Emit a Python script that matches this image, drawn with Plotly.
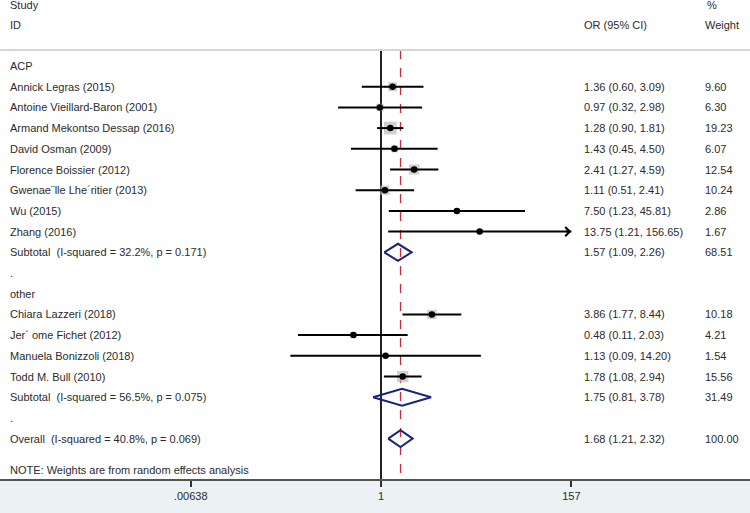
import math
import plotly.graph_objects as go

# ---------------- data ----------------
acp_studies = ["Annick Legras (2015)", "Antoine Vieillard-Baron (2001)",
               "Armand Mekontso Dessap (2016)", "David Osman (2009)",
               "Florence Boissier (2012)", "Gwenae¨lle Lhe´ritier (2013)",
               "Wu (2015)", "Zhang (2016)"]
acp_or = [1.36, 0.97, 1.28, 1.43, 2.41, 1.11, 7.50, 13.75]
acp_lo = [0.60, 0.32, 0.90, 0.45, 1.27, 0.51, 1.23, 1.21]
acp_hi = [3.09, 2.98, 1.81, 4.50, 4.59, 2.41, 45.81, 156.65]
acp_w = [9.60, 6.30, 19.23, 6.07, 12.54, 10.24, 2.86, 1.67]
acp_sub = [1.57, 1.09, 2.26, 68.51]
acp_het = "Subtotal  (I-squared = 32.2%, p = 0.171)"

other_studies = ["Chiara Lazzeri (2018)", "Jer´ ome Fichet (2012)",
                 "Manuela Bonizzoli (2018)", "Todd M. Bull (2010)"]
other_or = [3.86, 0.48, 1.13, 1.78]
other_lo = [1.77, 0.11, 0.09, 1.08]
other_hi = [8.44, 2.03, 14.20, 2.94]
other_w = [10.18, 4.21, 1.54, 15.56]
other_sub = [1.75, 0.81, 3.78, 31.49]
other_het = "Subtotal  (I-squared = 56.5%, p = 0.075)"

overall = [1.68, 1.21, 2.32, 100.00]
overall_het = "Overall  (I-squared = 40.8%, p = 0.069)"

tick_vals = [0.00638, 1, 157]
tick_text = [".00638", "1", "157"]
note_text = "NOTE: Weights are from random effects analysis"

# ---------------- layout constants ----------------
W, H = 750, 513
PX_ROW = 20.7
ROW0_PX = 66.0
PLOT_H = 479
LEFT_COL, OR_COL, W_COL = 8, 582, 703
FONT = dict(family="Arial, Liberation Sans, sans-serif", size=11, color="#2b2b2b")

def py(px):
    return (px - ROW0_PX) / PX_ROW

y_top = py(0)
y_bot = py(PLOT_H)
y_head_line = py(50)

rows = []
def add_group(name, studies, ors, los, his, ws, sub, het):
    rows.append(dict(kind="group", label=name))
    for s, o, l, h, w in zip(studies, ors, los, his, ws):
        rows.append(dict(kind="study", label=s, est=o, lo=l, hi=h, w=w))
    rows.append(dict(kind="sub", label=het, est=sub[0], lo=sub[1], hi=sub[2], w=sub[3]))
    rows.append(dict(kind="blank", label="."))

add_group("ACP", acp_studies, acp_or, acp_lo, acp_hi, acp_w, acp_sub, acp_het)
add_group("other", other_studies, other_or, other_lo, other_hi, other_w, other_sub, other_het)
rows.append(dict(kind="sub", label=overall_het, est=overall[0], lo=overall[1], hi=overall[2], w=overall[3]))

xmax = tick_vals[-1]

fig = go.Figure()

fig.add_trace(go.Scatter(x=[1, 1], y=[y_head_line, y_bot], mode="lines",
                         line=dict(color="#222222", width=2), hoverinfo="skip"))
fig.add_trace(go.Scatter(x=[overall[0], overall[0]], y=[y_head_line, y_bot], mode="lines",
                         line=dict(color="rgb(200,45,55)", width=1.3, dash="dash"), hoverinfo="skip"))

bx, by, bs = [], [], []
cx, cy = [], []
dx, dy = [], []
gx, gy = [], []
annotations = []
half_h = 8.5 / PX_ROW
arrow_rows = []

for k, r in enumerate(rows):
    annotations.append(dict(x=LEFT_COL / W, y=k, xref="paper", yref="y", text=r["label"],
                            showarrow=False, xanchor="left", yanchor="middle", font=FONT))
    if r["kind"] in ("study", "sub"):
        annotations.append(dict(x=OR_COL / W, y=k, xref="paper", yref="y",
                                text="%.2f (%.2f, %.2f)" % (r["est"], r["lo"], r["hi"]),
                                showarrow=False, xanchor="left", yanchor="middle", font=FONT))
        annotations.append(dict(x=W_COL / W, y=k, xref="paper", yref="y",
                                text="%.2f" % r["w"], showarrow=False,
                                xanchor="left", yanchor="middle", font=FONT))
    if r["kind"] == "study":
        bx.append(r["est"]); by.append(k); bs.append(2.9 * math.sqrt(r["w"]))
        cx += [r["lo"], r["hi"], None]; cy += [k, k, None]
        dx.append(r["est"]); dy.append(k)
        if r["hi"] >= xmax * 0.99:
            arrow_rows.append((k, r["hi"]))
    elif r["kind"] == "sub":
        gx += [r["lo"], r["est"], r["hi"], r["est"], r["lo"], None]
        gy += [k, k - half_h, k, k + half_h, k, None]

fig.add_trace(go.Scatter(x=bx, y=by, mode="markers",
                         marker=dict(symbol="square", size=bs, color="rgb(190,190,190)",
                                     line=dict(width=0)), hoverinfo="skip"))
fig.add_trace(go.Scatter(x=cx, y=cy, mode="lines", line=dict(color="black", width=2),
                         hoverinfo="skip"))
fig.add_trace(go.Scatter(x=dx, y=dy, mode="markers",
                         marker=dict(symbol="circle", size=6.5, color="black"), hoverinfo="skip"))
fig.add_trace(go.Scatter(x=gx, y=gy, mode="lines", line=dict(color="rgb(25,35,125)", width=2),
                         hoverinfo="skip"))

for k, hi in arrow_rows:
    annotations.append(dict(x=math.log10(hi), y=k, ax=math.log10(hi) - 0.08, ay=k,
                            xref="x", yref="y", axref="x", ayref="y", text="",
                            showarrow=True, arrowhead=4, arrowsize=0.9, arrowwidth=2,
                            arrowcolor="black"))

head = [("Study", LEFT_COL, -2.95), ("ID", LEFT_COL, -1.98), ("OR (95% CI)", OR_COL, -1.98),
        ("%", W_COL + 2, -2.95), ("Weight", W_COL, -1.98)]
for t, xp, yk in head:
    annotations.append(dict(x=xp / W, y=yk, xref="paper", yref="y", text=t, showarrow=False,
                            xanchor="left", yanchor="middle", font=FONT))
annotations.append(dict(x=LEFT_COL / W, y=py(470), xref="paper", yref="y", text=note_text,
                        showarrow=False, xanchor="left", yanchor="middle", font=FONT))

x_lo = -381.0 / 86.7
x_hi = (W - 381.0) / 86.7

fig.update_layout(
    width=W, height=H,
    margin=dict(l=0, r=0, t=0, b=H - PLOT_H, pad=0),
    paper_bgcolor="rgb(234,242,243)",
    plot_bgcolor="white",
    showlegend=False,
    annotations=annotations,
    shapes=[dict(type="line", xref="paper", yref="y", x0=0, x1=1,
                 y0=y_head_line, y1=y_head_line, line=dict(color="#d6d6d6", width=2))],
    xaxis=dict(type="log", range=[x_lo, x_hi], tickvals=tick_vals, ticktext=tick_text,
               showgrid=False, zeroline=False, showline=True, linecolor="#555555",
               linewidth=1.5, ticks="outside", ticklen=6, tickwidth=1.5, tickcolor="#333333",
               tickfont=FONT, fixedrange=True),
    yaxis=dict(range=[y_bot, y_top], visible=False, showgrid=False, zeroline=False,
               fixedrange=True),
)

fig.write_html("out.html", config={"displayModeBar": False},
               post_script="document.body.style.margin='0';document.body.style.padding='0';document.body.style.overflow='hidden';")
